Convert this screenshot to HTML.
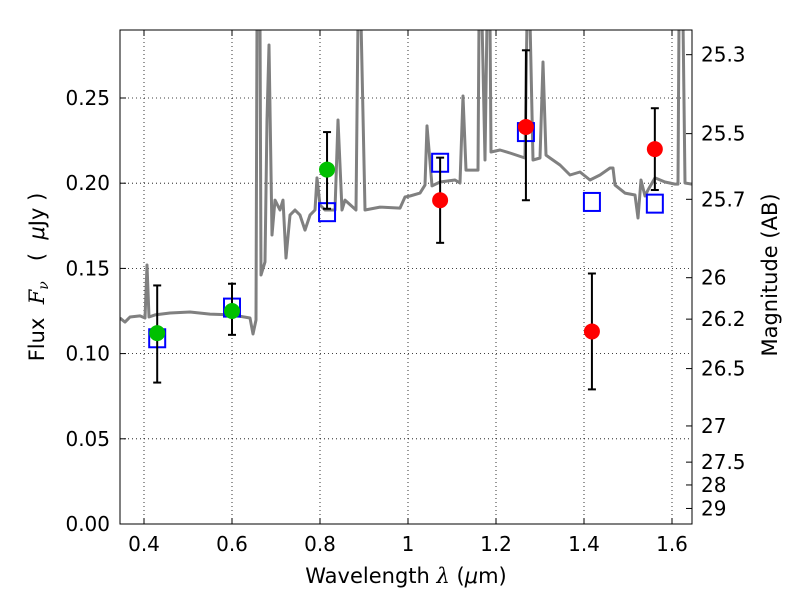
<!DOCTYPE html>
<html><head><meta charset="utf-8"><style>body{margin:0;background:#fff}svg text{font-family:"DejaVu Sans","Liberation Sans",sans-serif}</style></head>
<body>
<svg id="chart" width="800" height="600" xmlns="http://www.w3.org/2000/svg">
<rect width="800" height="600" fill="#fff"/>
<g id="grid"></g>
<g id="plot"></g>
<g id="axes"></g>
</svg>
<script>
const specPx=[[120,318],[125,322],[130,317],[140,316],[145,318],[147,265],[149,317],[155,315],[170,313],[190,312],[210,314],[232,315],[250,318],[253,334],[256,320],[257,20],[260,20],[261,275],[265,262],[267,120],[269,45],[272,235],[275,200],[280,210],[283,200],[286,258],[290,215],[295,210],[300,215],[305,230],[310,215],[315,210],[317,178],[320,205],[325,210],[330,210],[335,210],[338,120],[342,210],[345,200],[356,210],[358,20],[361,20],[365,210],[380,207],[400,208],[405,197],[410,196],[420,193],[425,185],[427,126],[432,186],[440,182],[455,180],[460,183],[463,96],[466,170],[478,170],[479,20],[482,20],[485,160],[487,20],[490,20],[491,152],[500,150],[510,153],[525,158],[527,20],[530,20],[533,160],[540,158],[543,62],[546,155],[550,158],[560,165],[570,175],[580,172],[590,180],[600,175],[610,168],[613,168],[615,185],[625,193],[635,195],[638,218],[641,180],[645,196],[648,190],[655,178],[665,182],[675,184],[678,184],[679,20],[683,20],[685,183],[692,184]];
const specWave=specPx.map(p=>+(0.4+(p[0]-144)/440).toFixed(4));
const specFlux=specPx.map(p=>+((524-p[1])/1704).toFixed(4));
const greenWave=[0.430,0.600,0.816];
const greenFlux=[0.112,0.125,0.208];
const greenLo=[0.083,0.111,0.185];
const greenHi=[0.140,0.141,0.230];
const redWave=[1.073,1.268,1.418,1.561];
const redFlux=[0.190,0.233,0.113,0.220];
const redLo=[0.165,0.190,0.079,0.196];
const redHi=[0.215,0.278,0.147,0.244];
const sqWave=[0.430,0.600,0.816,1.073,1.268,1.418,1.561];
const sqFlux=[0.109,0.127,0.183,0.212,0.230,0.189,0.188];
const xTicks=[0.4,0.6,0.8,1.0,1.2,1.4,1.6];
const xTickLabels=["0.4","0.6","0.8","1","1.2","1.4","1.6"];
const yTicks=[0,0.05,0.10,0.15,0.20,0.25];
const yTickLabels=["0.00","0.05","0.10","0.15","0.20","0.25"];
const magTicks=[25.3,25.5,25.7,26,26.2,26.5,27,27.5,28,29];
const magLabels=["25.3","25.5","25.7","26","26.2","26.5","27","27.5","28","29"];

const L=120,R=692,T=30,B=524;
const X=v=>144+(v-0.4)*440;
const Y=v=>524-v*1704;
const NS="http://www.w3.org/2000/svg";
function mk(tag,parent,attrs){const e=document.createElementNS(NS,tag);for(const k in attrs)e.setAttribute(k,attrs[k]);document.getElementById(parent).appendChild(e);return e;}

xTicks.forEach(t=>{const g=mk('line','grid',{x1:X(t),x2:X(t),y1:T,y2:B,stroke:'#000','stroke-width':0.8,'stroke-dasharray':'1,3'});

});
yTicks.forEach(t=>{const g=mk('line','grid',{x1:L,x2:R,y1:Y(t),y2:Y(t),stroke:'#000','stroke-width':0.8,'stroke-dasharray':'1,3'});

});

const defs=mk('defs','plot',{});
const cp=document.createElementNS(NS,'clipPath');cp.setAttribute('id','clip');
const cr=document.createElementNS(NS,'rect');cr.setAttribute('x',L);cr.setAttribute('y',T);cr.setAttribute('width',R-L);cr.setAttribute('height',B-T);cp.appendChild(cr);defs.appendChild(cp);

let d='';specWave.forEach((w,i)=>{d+=(i?'L':'M')+X(w).toFixed(1)+','+Y(specFlux[i]).toFixed(1);});
const sp=mk('path','plot',{d:d,fill:'none',stroke:'#808080','stroke-width':3,'clip-path':'url(#clip)','stroke-linejoin':'round'});



sqWave.forEach((w,i)=>{const s=mk('rect','plot',{x:X(w)-8,y:Y(sqFlux[i])-9,width:16,height:18,fill:'none',stroke:'#0000ff','stroke-width':2});

});

function errs(ws,lo,hi,nm){ws.forEach((w,i)=>{const x=X(w);
const l=mk('line','plot',{x1:x,x2:x,y1:Y(lo[i]),y2:Y(hi[i]),stroke:'#000','stroke-width':2});


[lo[i],hi[i]].forEach(v=>{const c=mk('line','plot',{x1:x-4,x2:x+4,y1:Y(v),y2:Y(v),stroke:'#000','stroke-width':2});

});});}
errs(greenWave,greenLo,greenHi,'green');
errs(redWave,redLo,redHi,'red');
greenWave.forEach((w,i)=>{const c=mk('circle','plot',{cx:X(w),cy:Y(greenFlux[i]),r:8,fill:'#00c000'});

});
redWave.forEach((w,i)=>{const c=mk('circle','plot',{cx:X(w),cy:Y(redFlux[i]),r:8,fill:'#ff0000'});

});

const fr=mk('rect','axes',{x:L,y:T,width:R-L,height:B-T,fill:'none',stroke:'#000','stroke-width':1});


xTicks.forEach((t,i)=>{mk('line','axes',{x1:X(t),x2:X(t),y1:B,y2:B-6,stroke:'#000'});mk('line','axes',{x1:X(t),x2:X(t),y1:T,y2:T+6,stroke:'#000'});
const tx=mk('text','axes',{x:X(t),y:B+27,'text-anchor':'middle','font-size':20});tx.textContent=xTickLabels[i];

});
yTicks.forEach((t,i)=>{mk('line','axes',{x1:L,x2:L+6,y1:Y(t),y2:Y(t),stroke:'#000'});
const tx=mk('text','axes',{x:L-10,y:Y(t)+7,'text-anchor':'end','font-size':20});tx.textContent=yTickLabels[i];

});
magTicks.forEach((m,i)=>{const y=Y(Math.pow(10,(23.9-m)/2.5));mk('line','axes',{x1:R,x2:R-6,y1:y,y2:y,stroke:'#000'});
const tx=mk('text','axes',{x:R+9,y:y+7,'font-size':20});tx.textContent=magLabels[i];

});
</script>
<svg style="position:absolute;left:0;top:0" width="800" height="600">
<text x="406" y="583" text-anchor="middle" font-size="21" font-family="DejaVu Sans,sans-serif">Wavelength  <tspan font-style="italic" font-family="DejaVu Serif,serif">λ</tspan> (<tspan font-style="italic">μ</tspan>m)</text>
<text transform="translate(44,277) rotate(-90)" text-anchor="middle" font-size="21" font-family="DejaVu Sans,sans-serif" xml:space="preserve">Flux  <tspan font-style="italic" font-family="DejaVu Serif,serif">F</tspan><tspan font-style="italic" font-size="14" dy="4" font-family="DejaVu Serif,serif">ν</tspan><tspan dy="-4">   (  </tspan><tspan font-style="italic">μ</tspan>Jy )</text>
<text transform="translate(777,275) rotate(-90)" text-anchor="middle" font-size="21" font-family="DejaVu Sans,sans-serif">Magnitude (AB)</text>
</svg>
</body></html>
